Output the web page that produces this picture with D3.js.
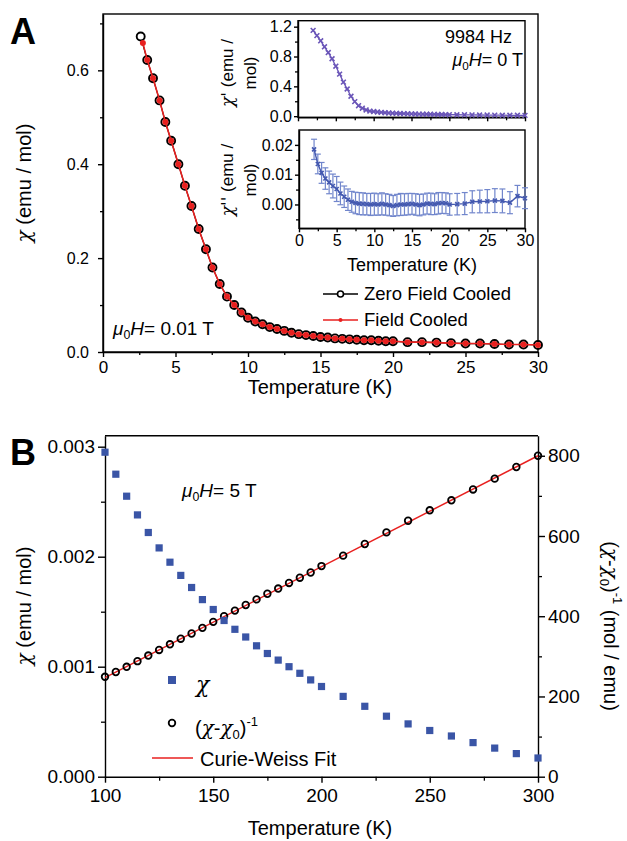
<!DOCTYPE html>
<html>
<head>
<meta charset="utf-8">
<title>Susceptibility</title>
<script src="https://cdnjs.cloudflare.com/ajax/libs/d3/7.8.5/d3.min.js"></script>
<style>
    body { margin: 0; background: #fff; }
    svg { display: block; font-family: "Liberation Sans", Arial, sans-serif; }
</style>
</head>
<body>
<div id="chart"></div>
<script>
// ---- Panel A: main dc susceptibility ----
const zfcT = [2.6, 3.05, 3.45, 3.9, 4.3, 4.7, 5.2, 5.65, 6.1, 6.6, 7.1, 7.55, 8.05, 8.55, 9.05, 9.55, 10, 10.5, 11, 11.5, 12, 12.5, 13, 13.5, 14, 14.5, 15, 15.5, 16, 16.5, 17, 17.5, 18, 18.5, 19, 19.5, 20, 21, 22, 23, 24, 25, 26, 27, 28, 29, 30];
const zfcChi = [0.672, 0.622, 0.583, 0.536, 0.49, 0.45, 0.40, 0.354, 0.311, 0.262, 0.219, 0.180, 0.145, 0.118, 0.100, 0.084, 0.073, 0.065, 0.059, 0.053, 0.049, 0.045, 0.041, 0.038, 0.036, 0.034, 0.032, 0.031, 0.029, 0.028, 0.027, 0.026, 0.025, 0.025, 0.024, 0.023, 0.023, 0.021, 0.021, 0.020, 0.019, 0.018, 0.018, 0.017, 0.016, 0.016, 0.015];
const fcT = [2.75, 3.05, 3.45, 3.9, 4.3, 4.7, 5.2, 5.65, 6.1, 6.6, 7.1, 7.55, 8.05, 8.55, 9.05, 9.55, 10, 10.5, 11, 11.5, 12, 12.5, 13, 13.5, 14, 14.5, 15, 15.5, 16, 16.5, 17, 17.5, 18, 18.5, 19, 19.5, 20, 21, 22, 23, 24, 25, 26, 27, 28, 29, 30];
const fcChi = [0.658, 0.622, 0.583, 0.536, 0.49, 0.45, 0.40, 0.354, 0.311, 0.262, 0.219, 0.180, 0.145, 0.118, 0.100, 0.084, 0.073, 0.065, 0.059, 0.053, 0.049, 0.045, 0.041, 0.038, 0.036, 0.034, 0.032, 0.031, 0.029, 0.028, 0.027, 0.026, 0.025, 0.025, 0.024, 0.023, 0.023, 0.021, 0.021, 0.020, 0.019, 0.018, 0.018, 0.017, 0.016, 0.016, 0.015];

// ---- Panel A insets: ac susceptibility ----
const acT = [2, 2.5, 3, 3.5, 4, 4.5, 5, 5.5, 6, 6.5, 7, 7.5, 8, 8.5, 9, 9.5, 10, 10.5, 11, 11.5, 12, 12.5, 13, 13.5, 14, 14.5, 15, 15.5, 16, 16.5, 17, 17.5, 18, 18.5, 19, 19.5, 20, 21, 22, 23, 24, 25, 26, 27, 28, 29, 30];
const chiReal = [1.15, 1.08, 1.01, 0.93, 0.853, 0.77, 0.67, 0.564, 0.457, 0.364, 0.267, 0.195, 0.141, 0.107, 0.084, 0.068, 0.062, 0.056, 0.051, 0.047, 0.043, 0.040, 0.038, 0.036, 0.034, 0.032, 0.031, 0.029, 0.028, 0.027, 0.026, 0.025, 0.024, 0.023, 0.022, 0.021, 0.020, 0.019, 0.018, 0.017, 0.016, 0.015, 0.014, 0.013, 0.012, 0.012, 0.011];
const chiImag = [0.0185, 0.0136, 0.0106, 0.0087, 0.0074, 0.0062, 0.0052, 0.0037, 0.0026, 0.0016, 0.0009, 0.0005, 0.0003, 0.0002, 0.0001, 0.0, 0.0001, 0.0, 0.0002, 0.0, -0.0002, -0.0005, -0.0002, 0.0, 0.0, 0.0001, 0.0002, 0.0, -0.0002, 0.0, 0.0003, 0.0002, 0.0001, 0.0004, 0.0005, 0.0004, 0.0, 0.0001, 0.0003, 0.0009, 0.001, 0.0011, 0.0013, 0.0012, 0.0006, 0.0028, 0.0021];
const chiImagErr = [0.0034, 0.0033, 0.0035, 0.0036, 0.0038, 0.0040, 0.0042, 0.0038, 0.0036, 0.0036, 0.0035, 0.0036, 0.0037, 0.0037, 0.0036, 0.0037, 0.0037, 0.0036, 0.0037, 0.0036, 0.0036, 0.0035, 0.0036, 0.0037, 0.0036, 0.0036, 0.0035, 0.0036, 0.0036, 0.0035, 0.0035, 0.0036, 0.0035, 0.0036, 0.0035, 0.0035, 0.0036, 0.0036, 0.0037, 0.0037, 0.0038, 0.0039, 0.0040, 0.0040, 0.0037, 0.0036, 0.0035];

// ---- Panel B: high-temperature susceptibility ----
const hiT = [100, 105, 110, 115, 120, 125, 130, 135, 140, 145, 150, 155, 160, 165, 170, 175, 180, 185, 190, 195, 200, 210, 220, 230, 240, 250, 260, 270, 280, 290, 300];
const hiChi = [0.00295, 0.00275, 0.00255, 0.00238, 0.00222, 0.00208, 0.00195, 0.00183, 0.00172, 0.00161, 0.00152, 0.00142, 0.00134, 0.00127, 0.00119, 0.00112, 0.00106, 0.00100, 0.00094, 0.00088, 0.00082, 0.00073, 0.00064, 0.00055, 0.00048, 0.00042, 0.00037, 0.00031, 0.00026, 0.00021, 0.00017];
const invChi = [249, 261, 274, 288, 302, 316, 330, 344, 357, 371, 386, 400, 414, 428, 442, 456, 469, 483, 496, 509, 525, 551, 580, 609, 638, 664, 689, 716, 743, 772, 800];
const fitT = [100, 300];
const fitInv = [247, 800];

const FONT = '"Liberation Sans", Arial, sans-serif';
const CHI_FONT = '"DejaVu Serif", serif';
const BLUE = '#3a55a6';
const PURPLE = '#6a55b8';
const IMAG = '#4459b0';

const svg = d3.select('#chart').append('svg')
    .attr('width', 627).attr('height', 841);
svg.append('rect').attr('width', 627).attr('height', 841).attr('fill', '#fff');

// axis helper: major ticks with labels + unlabeled minor ticks
function addAxis(orient, scale, major, minor, fmt, opt) {
    const mk = {left: d3.axisLeft, right: d3.axisRight, bottom: d3.axisBottom}[orient];
    const tr = `translate(${opt.x || 0},${opt.y || 0})`;
    if (minor) {
        const gm = svg.append('g').attr('transform', tr)
            .call(mk(scale).tickValues(minor).tickSize(opt.minor || 3).tickFormat(''));
        gm.select('.domain').remove();
        gm.selectAll('line').attr('stroke', '#000').attr('stroke-width', 1.3);
    }
    const g = svg.append('g').attr('transform', tr)
        .call(mk(scale).tickValues(major).tickSize(opt.size || 6).tickSizeOuter(0)
            .tickPadding(opt.pad || 3).tickFormat(fmt));
    g.attr('font-family', FONT).attr('font-size', opt.fs || 16);
    g.selectAll('path,line').attr('stroke', '#000').attr('stroke-width', 1.4);
    g.selectAll('text').attr('fill', '#000');
    return g;
}

// text made of pieces; 'χ' pieces get the serif, slanted chi glyph
function rich(t, parts, fs) {
    parts.forEach(p => {
        const s = t.append('tspan').text(p.t);
        if (p.t.startsWith('χ')) s.attr('font-family', CHI_FONT).attr('font-style', 'italic');
        if (p.sub) s.attr('font-size', fs * 0.65).attr('dy', 4);
        if (p.sup) s.attr('font-size', fs * 0.65).attr('dy', -9);
        if (p.dy) s.attr('dy', p.dy);
    });
    return t;
}

function muH(x, y, rest, fs, anchor) {
    const t = svg.append('text').attr('x', x).attr('y', y)
        .attr('font-size', fs).attr('text-anchor', anchor || 'start');
    t.append('tspan').attr('font-style', 'italic').text('μ');
    t.append('tspan').attr('font-size', fs * 0.65).attr('dy', 4).text('0');
    t.append('tspan').attr('font-style', 'italic').attr('dy', -4).text('H');
    t.append('tspan').text(rest);
    return t;
}

function cross(sel, x, y, color, s) {
    sel.append('path')
        .attr('d', `M${x - s},${y - s}L${x + s},${y + s}M${x - s},${y + s}L${x + s},${y - s}`)
        .attr('stroke', color).attr('stroke-width', 1.6).attr('fill', 'none');
}

// ================= Panel A =================
const xA = d3.scaleLinear().domain([0, 30]).range([103, 538]);
const yA = d3.scaleLinear().domain([0, 0.72]).range([352, 14]);

svg.append('rect').attr('x', 103).attr('y', 14).attr('width', 435).attr('height', 338)
    .attr('fill', 'none').attr('stroke', '#000').attr('stroke-width', 1.4);

addAxis('left', yA, [0, 0.2, 0.4, 0.6], [0.1, 0.3, 0.5, 0.7], d3.format('.1f'),
    {x: 103, size: 5, pad: 9, fs: 16});
addAxis('bottom', xA, [0, 5, 10, 15, 20, 25, 30], [2.5, 7.5, 12.5, 17.5, 22.5, 27.5], d3.format('d'),
    {y: 352, size: 5, pad: 4, fs: 17});

const lineA = d3.line().x(d => xA(d[0])).y(d => yA(d[1]));
const zfc = zfcT.map((t, i) => [t, zfcChi[i]]);
const fc = fcT.map((t, i) => [t, fcChi[i]]);

svg.append('path').attr('d', lineA(zfc)).attr('fill', 'none').attr('stroke', '#000').attr('stroke-width', 1.2);
svg.append('g').selectAll('circle').data(zfc).join('circle')
    .attr('cx', d => xA(d[0])).attr('cy', d => yA(d[1])).attr('r', 4)
    .attr('fill', '#fff').attr('stroke', '#000').attr('stroke-width', 1.9);
svg.append('path').attr('d', lineA(fc)).attr('fill', 'none').attr('stroke', '#e8201f').attr('stroke-width', 1.6);
svg.append('g').selectAll('circle').data(fc).join('circle')
    .attr('cx', d => xA(d[0])).attr('cy', d => yA(d[1])).attr('r', 3)
    .attr('fill', '#e8201f');

rich(svg.append('text').attr('transform', 'translate(31,183) rotate(-90)')
    .attr('text-anchor', 'middle').attr('font-size', 20), [{t: 'χ'}, {t: ' (emu / mol)'}], 20);
svg.append('text').attr('x', 320).attr('y', 394).attr('text-anchor', 'middle')
    .attr('font-size', 20).text('Temperature (K)');
svg.append('text').attr('x', 10).attr('y', 44).attr('font-size', 36)
    .attr('font-weight', 'bold').text('A');
muH(113, 335, '= 0.01 T', 19);

// legend A
const lgA = svg.append('g');
lgA.append('line').attr('x1', 323).attr('x2', 358).attr('y1', 294).attr('y2', 294)
    .attr('stroke', '#000').attr('stroke-width', 1.4);
lgA.append('circle').attr('cx', 340.5).attr('cy', 294).attr('r', 3)
    .attr('fill', '#fff').attr('stroke', '#000').attr('stroke-width', 1.6);
lgA.append('text').attr('x', 364).attr('y', 300).attr('font-size', 18.5).text('Zero Field Cooled');
lgA.append('line').attr('x1', 323).attr('x2', 358).attr('y1', 320).attr('y2', 320)
    .attr('stroke', '#e8201f').attr('stroke-width', 1.6);
lgA.append('circle').attr('cx', 340.5).attr('cy', 320).attr('r', 2).attr('fill', '#e8201f');
lgA.append('text').attr('x', 364).attr('y', 326).attr('font-size', 18.5).text('Field Cooled');

// ---- inset: chi' ----
const xI1 = d3.scaleLinear().domain([0, 30]).range([298, 525]);
const yI1 = d3.scaleLinear().domain([-0.015, 1.28]).range([117.3, 20.7]);
svg.append('rect').attr('x', 298).attr('y', 20.7).attr('width', 227).attr('height', 96.6)
    .attr('fill', '#fff').attr('stroke', '#000').attr('stroke-width', 1.4);
addAxis('left', yI1, [0, 0.4, 0.8, 1.2], [0.2, 0.6, 1.0], d3.format('.1f'),
    {x: 298, size: 4, pad: 2, fs: 16});
addAxis('bottom', xI1, [0, 5, 10, 15, 20, 25, 30], [2.5, 7.5, 12.5, 17.5, 22.5, 27.5], () => '',
    {y: 117.3, size: 4});
const real = acT.map((t, i) => [t, chiReal[i]]);
svg.append('path').attr('d', d3.line().x(d => xI1(d[0])).y(d => yI1(d[1]))(real))
    .attr('fill', 'none').attr('stroke', PURPLE).attr('stroke-width', 1.3);
const gR = svg.append('g');
real.forEach(d => cross(gR, xI1(d[0]), yI1(d[1]), PURPLE, 2.4));

svg.append('text').attr('x', 445).attr('y', 43).attr('font-size', 18).text('9984 Hz');
muH(523, 66, '= 0 T', 18, 'end');

// ---- inset: chi'' ----
const xI2 = d3.scaleLinear().domain([0, 30]).range([299, 525]);
const yI2 = d3.scaleLinear().domain([-0.008, 0.025]).range([228.3, 130]);
svg.append('rect').attr('x', 299).attr('y', 130).attr('width', 226).attr('height', 98.3)
    .attr('fill', '#fff').attr('stroke', '#000').attr('stroke-width', 1.4);
addAxis('left', yI2, [0, 0.01, 0.02], [-0.005, 0.005, 0.015], d3.format('.2f'),
    {x: 299, size: 4, pad: 2, fs: 16});
addAxis('bottom', xI2, [0, 5, 10, 15, 20, 25, 30], [2.5, 7.5, 12.5, 17.5, 22.5, 27.5], d3.format('d'),
    {y: 228.3, size: 4, pad: 2, fs: 16});
const imag = acT.map((t, i) => [t, chiImag[i], chiImagErr[i]]);
const gE = svg.append('g').attr('stroke', '#7186cc').attr('stroke-width', 1.2);
imag.forEach(d => {
    const x = xI2(d[0]), y1 = yI2(d[1] - d[2]), y2 = yI2(d[1] + d[2]);
    gE.append('line').attr('x1', x).attr('x2', x).attr('y1', y1).attr('y2', y2);
    gE.append('line').attr('x1', x - 3).attr('x2', x + 3).attr('y1', y1).attr('y2', y1);
    gE.append('line').attr('x1', x - 3).attr('x2', x + 3).attr('y1', y2).attr('y2', y2);
});
svg.append('path').attr('d', d3.line().x(d => xI2(d[0])).y(d => yI2(d[1]))(imag))
    .attr('fill', 'none').attr('stroke', IMAG).attr('stroke-width', 1.4);
const gI = svg.append('g');
imag.forEach(d => cross(gI, xI2(d[0]), yI2(d[1]), IMAG, 2));

svg.append('text').attr('x', 412).attr('y', 271).attr('text-anchor', 'middle')
    .attr('font-size', 18).text('Temperature (K)');

// inset y labels (two lines each)
[[73, "χ'"], [180, "χ''"]].forEach(([cy, sym]) => {
    rich(svg.append('text').attr('transform', `translate(233,${cy}) rotate(-90)`)
        .attr('text-anchor', 'middle').attr('font-size', 17), [{t: sym}, {t: ' (emu /'}], 17);
    svg.append('text').attr('transform', `translate(256,${cy}) rotate(-90)`)
        .attr('text-anchor', 'middle').attr('font-size', 17).text('mol)');
});

// ================= Panel B =================
const xB = d3.scaleLinear().domain([100, 300]).range([105, 538]);
const yBL = d3.scaleLinear().domain([0, 0.0031]).range([776.7, 435.7]);
const yBR = d3.scaleLinear().domain([0, 850]).range([776.7, 435.7]);

svg.append('line').attr('x1', 105).attr('x2', 538).attr('y1', 435.7).attr('y2', 435.7)
    .attr('stroke', '#000').attr('stroke-width', 1.4);
addAxis('left', yBL, [0, 0.001, 0.002, 0.003], [0.0005, 0.0015, 0.0025], d3.format('.3f'),
    {x: 105, size: 7, pad: 3, fs: 19, minor: 4});
addAxis('right', yBR, [0, 200, 400, 600, 800], [100, 300, 500, 700], d3.format('d'),
    {x: 538, size: 7, pad: 3, fs: 19, minor: 4});
addAxis('bottom', xB, [100, 150, 200, 250, 300], [125, 175, 225, 275], d3.format('d'),
    {y: 776.7, size: 6, pad: 6, fs: 19, minor: 4});

const inv = hiT.map((t, i) => [t, invChi[i]]);
const fit = fitT.map((t, i) => [t, fitInv[i]]);
svg.append('path').attr('d', d3.line().x(d => xB(d[0])).y(d => yBR(d[1]))(fit))
    .attr('fill', 'none').attr('stroke', '#e8201f').attr('stroke-width', 1.5);
svg.append('g').selectAll('circle').data(inv).join('circle')
    .attr('cx', d => xB(d[0])).attr('cy', d => yBR(d[1])).attr('r', 3.3)
    .attr('fill', 'none').attr('stroke', '#000').attr('stroke-width', 1.8);
svg.append('g').selectAll('rect').data(hiT.map((t, i) => [t, hiChi[i]])).join('rect')
    .attr('x', d => xB(d[0]) - 3.6).attr('y', d => yBL(d[1]) - 3.6)
    .attr('width', 7.2).attr('height', 7.2).attr('fill', BLUE);

svg.append('text').attr('x', 10).attr('y', 465).attr('font-size', 36)
    .attr('font-weight', 'bold').text('B');
muH(182, 497, '= 5 T', 19);

rich(svg.append('text').attr('transform', 'translate(31,606) rotate(-90)')
    .attr('text-anchor', 'middle').attr('font-size', 20), [{t: 'χ'}, {t: ' (emu / mol)'}], 20);
svg.append('text').attr('x', 320).attr('y', 835).attr('text-anchor', 'middle')
    .attr('font-size', 20).text('Temperature (K)');

rich(svg.append('text').attr('transform', 'translate(604,626) rotate(90)')
    .attr('text-anchor', 'middle').attr('font-size', 20),
    [{t: '('}, {t: 'χ'}, {t: '-'}, {t: 'χ'}, {t: '0', sub: true}, {t: ')', dy: -4},
     {t: '-1', sup: true}, {t: ' (mol / emu)', dy: 9}], 20);

// legend B
const lgB = svg.append('g');
lgB.append('rect').attr('x', 168).attr('y', 676).attr('width', 8).attr('height', 8).attr('fill', BLUE);
rich(lgB.append('text').attr('x', 196).attr('y', 692).attr('font-size', 22), [{t: 'χ'}], 22);
lgB.append('circle').attr('cx', 172).attr('cy', 723).attr('r', 3.3)
    .attr('fill', 'none').attr('stroke', '#000').attr('stroke-width', 1.8);
rich(lgB.append('text').attr('x', 195).attr('y', 735).attr('font-size', 20),
    [{t: '('}, {t: 'χ'}, {t: '-'}, {t: 'χ'}, {t: '0', sub: true}, {t: ')', dy: -4}, {t: '-1', sup: true}], 20);
lgB.append('line').attr('x1', 152).attr('x2', 193).attr('y1', 758).attr('y2', 758)
    .attr('stroke', '#e8201f').attr('stroke-width', 1.5);
lgB.append('text').attr('x', 200).attr('y', 766).attr('font-size', 20).text('Curie-Weiss Fit');
</script>
</body>
</html>
